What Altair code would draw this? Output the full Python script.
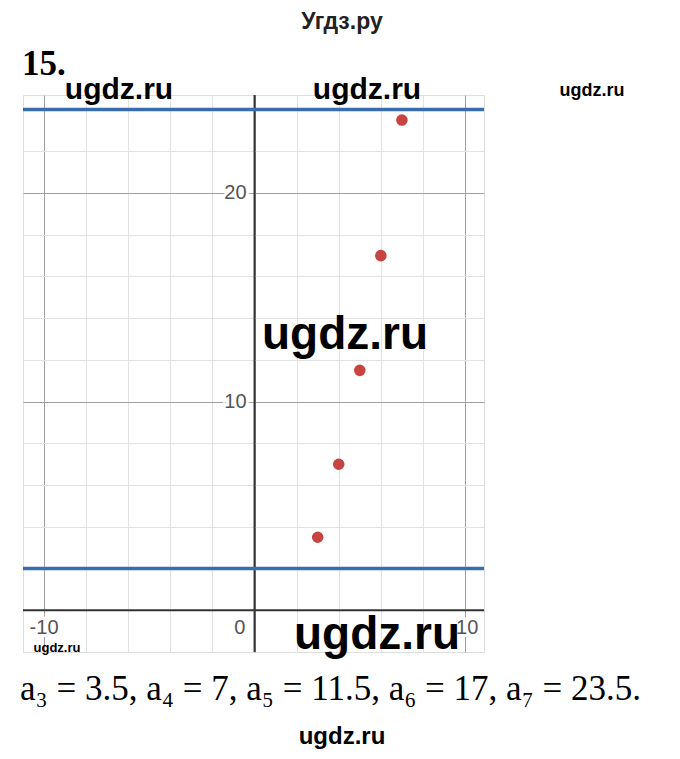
import altair as alt
import pandas as pd

# ---- data ----
n_vals = [3, 4, 5, 6, 7]
a_vals = [3.5, 7, 11.5, 17, 23.5]
bound_lines = [2, 24]
x_tick_vals = [-10, 0, 10]
x_tick_labels = ["-10", "0", "10"]
y_tick_vals = [10, 20]
y_tick_labels = ["10", "20"]
x_grid = list(range(-10, 11, 2))
y_grid = list(range(0, 25, 2))

title_text = "Угдз.ру"
number_text = "15."
formula_text = "a₃ = 3.5, a₄ = 7, a₅ = 11.5, a₆ = 17, a₇ = 23.5."
wm = "ugdz.ru"

W, H = 461, 557
xs = alt.Scale(domain=[-11.0, 10.9], nice=False, zero=False)
ys = alt.Scale(domain=[-2.0, 24.7], nice=False, zero=False)

grid_color = {"condition": {"test": "datum.value % 10 === 0", "value": "#a0a0a0"}, "value": "#e2e2e2"}

pts_df = pd.DataFrame({"n": n_vals, "a": a_vals})
base = alt.Chart(pts_df)

grid = base.mark_point(opacity=0).encode(
    x=alt.X("n:Q", scale=xs, axis=alt.Axis(values=x_grid, grid=True, labels=False, ticks=False,
                                           domain=False, title=None, gridColor=grid_color, gridWidth=1)),
    y=alt.Y("a:Q", scale=ys, axis=alt.Axis(values=y_grid, grid=True, labels=False, ticks=False,
                                           domain=False, title=None, gridColor=grid_color, gridWidth=1)),
)

zero_df = pd.DataFrame({"z": [0]})
x_axis_line = alt.Chart(zero_df).mark_rule(color="#333333", strokeWidth=2).encode(
    y=alt.Y("z:Q", scale=ys))
y_axis_line = alt.Chart(zero_df).mark_rule(color="#333333", strokeWidth=2).encode(
    x=alt.X("z:Q", scale=xs))

blue = alt.Chart(pd.DataFrame({"b": bound_lines})).mark_rule(color="#3a6dae", strokeWidth=3.5).encode(
    y=alt.Y("b:Q", scale=ys))

points = base.mark_circle(size=135, color="#c74440", opacity=1).encode(
    x=alt.X("n:Q", scale=xs), y=alt.Y("a:Q", scale=ys))

xl_df = pd.DataFrame({"v": x_tick_vals, "t": x_tick_labels, "z": [0, 0, 0]})
xl_df["dxv"] = [0, -0.7, 0.1]
xl_df["pos"] = xl_df["v"] + xl_df["dxv"]
yl_df = pd.DataFrame({"v": y_tick_vals, "t": y_tick_labels, "z": [0, 0]})

def xlabels(halo):
    kw = dict(stroke="white", strokeWidth=6) if halo else {}
    return alt.Chart(xl_df).mark_text(font="Liberation Sans", fontSize=20, color="#555555",
                                      align="center", baseline="middle", dy=18, **kw).encode(
        x=alt.X("pos:Q", scale=xs), y=alt.Y("z:Q", scale=ys), text="t:N")

def ylabels(halo):
    kw = dict(stroke="white", strokeWidth=6) if halo else {}
    return alt.Chart(yl_df).mark_text(font="Liberation Sans", fontSize=20, color="#555555",
                                      align="right", baseline="middle", dx=-8, **kw).encode(
        x=alt.X("z:Q", scale=xs), y=alt.Y("v:Q", scale=ys), text="t:N")

def txt(s, x, y, size, font="Liberation Sans", weight="bold", align="center",
        baseline="middle", color="#111111"):
    return alt.Chart(pd.DataFrame({"t": [s]})).mark_text(
        font=font, fontSize=size, fontWeight=weight, align=align, baseline=baseline, color=color
    ).encode(x=alt.value(x), y=alt.value(y), text="t:N")

annots = [
    txt(title_text, 319, -73, 23, color="#222222"),
    txt(number_text, -1, -20, 35, font="Liberation Serif", align="left", baseline="alphabetic", color="#000000"),
    txt(wm, 96, -5, 30, color="#000000"),
    txt(wm, 344, -5, 30, color="#000000"),
    txt(wm, 569, -4, 18, color="#000000"),
    txt(wm, 322, 240, 46, color="#000000"),
    txt(wm, 354, 540, 46, color="#000000"),
    txt(wm, 34, 553, 13, color="#000000"),
    txt(formula_text, -3, 594, 35, font="Liberation Serif", weight="normal", align="left", color="#000000"),
    txt(wm, 319, 642, 24, color="#000000"),
]

chart = alt.layer(
    grid, x_axis_line, y_axis_line, blue, points,
    xlabels(True), xlabels(False), ylabels(True), ylabels(False),
    *annots
).properties(
    width=W, height=H,
    autosize=alt.AutoSizeParams(type="none"),
    padding={"left": 15, "top": 87, "right": 188, "bottom": 99},
).configure_view(strokeWidth=0).configure(background="white")

chart.save("out.html", embed_options={"renderer": "svg", "actions": False})
